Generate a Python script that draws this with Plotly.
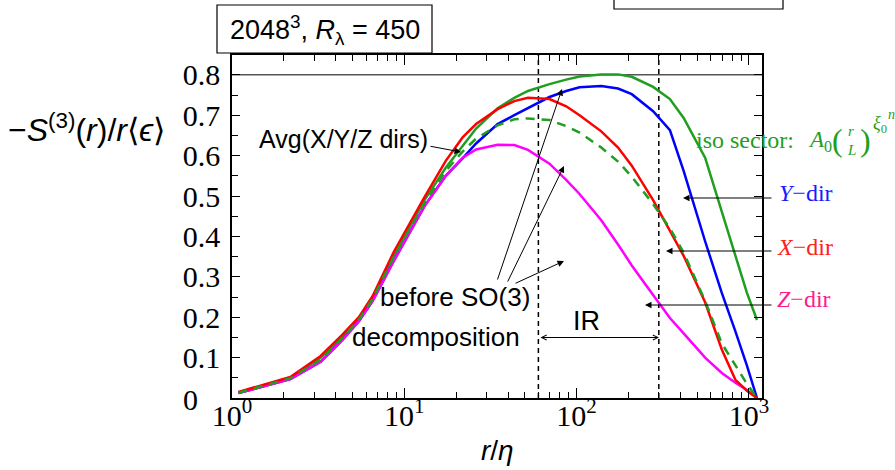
import plotly.graph_objects as go

# ---------------- data ----------------
r_eta = [1.09, 2.18, 3.27, 4.36, 5.45, 6.54, 8.7, 10.9, 13.1, 17.4, 21.8, 26.1, 34.8,
         43.5, 52.2, 69.6, 87, 104, 139, 174, 209, 278, 348, 418, 557, 696, 835, 974, 1114]

s3_x = [0.015, 0.052, 0.104, 0.156, 0.200, 0.252, 0.362, 0.437, 0.497, 0.587, 0.645, 0.678, 0.715,
        0.735, 0.743, 0.740, 0.722, 0.700, 0.660, 0.620, 0.575, 0.490, 0.415, 0.352, 0.237, 0.120,
        0.045, 0.018, 0.0]
s3_y = [0.012, 0.047, 0.090, 0.143, 0.190, 0.240, 0.340, 0.414, 0.475, 0.550, 0.593, 0.630, 0.678,
        0.700, 0.718, 0.745, 0.760, 0.769, 0.772, 0.766, 0.752, 0.710, 0.663, 0.562, 0.388, 0.260,
        0.165, 0.080, 0.0]
s3_z = [0.012, 0.047, 0.090, 0.143, 0.190, 0.240, 0.340, 0.414, 0.475, 0.550, 0.595, 0.615, 0.627,
        0.626, 0.614, 0.580, 0.540, 0.505, 0.440, 0.380, 0.328, 0.255, 0.198, 0.160, 0.100, 0.062,
        0.038, 0.020, 0.0]
s3_iso = [0.014, 0.050, 0.100, 0.150, 0.197, 0.247, 0.352, 0.430, 0.490, 0.570, 0.624, 0.667, 0.717,
          0.743, 0.760, 0.777, 0.788, 0.796, 0.801, 0.801, 0.795, 0.770, 0.740, 0.693, 0.595, 0.460,
          0.350, 0.260, 0.193]
s3_avg = [0.013, 0.049, 0.095, 0.148, 0.194, 0.245, 0.350, 0.425, 0.483, 0.562, 0.610, 0.642, 0.675,
          0.690, 0.692, 0.688, 0.673, 0.657, 0.620, 0.585, 0.548, 0.480, 0.420, 0.360, 0.240, 0.135,
          0.080, 0.035, 0.0]

ir_bounds = [60, 300]
ref_level = 0.8
y_ticks = [0, 0.1, 0.2, 0.3, 0.4, 0.5, 0.6, 0.7, 0.8]
y_ticktext = ["", "0.1", "0.2", "0.3", "0.4", "0.5", "0.6", "0.7", "0.8"]
y_zero_label = "0"
y_minor = [0.05, 0.15, 0.25, 0.35, 0.45, 0.55, 0.65, 0.75]
x_ticks = [1, 10, 100, 1000]
x_ticktext = ["10<sup>0</sup>", "10<sup>1</sup>", "10<sup>2</sup>", "10<sup>3</sup>"]
x_minor = [m * d for d in (1, 10, 100) for m in range(2, 10)]

# ---------------- geometry helpers (pixels -> paper) ----------------
W, H = 895, 470
L, R, T, B = 232, 762, 55, 398
def pxx(p):
    return (p - L) / (R - L)
def pxy(p):
    return (B - p) / (B - T)

SANS = "Liberation Sans"
SERIF = "Liberation Serif"
GREEN = "#1f9e1f"

fig = go.Figure()

# reference line at 0.8 and IR bounds
fig.add_trace(go.Scatter(x=[0.9, 1300], y=[ref_level, ref_level], mode="lines",
                         line=dict(color="#555555", width=1.5), hoverinfo="skip", showlegend=False))
for b in ir_bounds:
    fig.add_trace(go.Scatter(x=[b, b], y=[0, 0.86], mode="lines",
                             line=dict(color="black", width=1.5, dash="5px,4px"),
                             hoverinfo="skip", showlegend=False))

fig.add_trace(go.Scatter(x=r_eta, y=s3_iso, mode="lines", line=dict(color=GREEN, width=2.5), showlegend=False))
fig.add_trace(go.Scatter(x=r_eta, y=s3_y, mode="lines", line=dict(color="#0000ff", width=2.5), showlegend=False))
fig.add_trace(go.Scatter(x=r_eta, y=s3_z, mode="lines", line=dict(color="#ff00ff", width=2.5), showlegend=False))
fig.add_trace(go.Scatter(x=r_eta, y=s3_x, mode="lines", line=dict(color="#ff0000", width=2.5), showlegend=False))
fig.add_trace(go.Scatter(x=r_eta, y=s3_avg, mode="lines",
                         line=dict(color=GREEN, width=2.5, dash="9px,7px"), showlegend=False))

ann = []
def text(t, xp, yp, size, color="black", family=SANS, xanchor="center", yanchor="middle"):
    ann.append(dict(text=t, x=pxx(xp), y=pxy(yp), xref="paper", yref="paper", showarrow=False,
                    font=dict(family=family, size=size, color=color),
                    xanchor=xanchor, yanchor=yanchor))

def arrow(tail, tip, head=2, size=1.3, side="end"):
    ann.append(dict(text="", x=pxx(tip[0]), y=pxy(tip[1]), xref="paper", yref="paper",
                    showarrow=True, ax=tail[0] - tip[0], ay=tail[1] - tip[1],
                    arrowhead=head, arrowsize=size, arrowwidth=1, arrowcolor="black",
                    arrowside=side, standoff=0, startstandoff=0))

# y-axis zero label sits left-aligned under the other tick labels
text(y_zero_label, 181, 399, 30, family=SERIF, xanchor="left")

# title box text
text("2048<sup>3</sup>, <i>R</i><sub>λ</sub> = 450", 325, 30, 27)
# axis titles
text("−<i>S</i><sup>(3)</sup>(<i>r</i>)/<i>r</i>⟨<i>ϵ</i>⟩", 6, 128, 32, xanchor="left")
text("<i>r</i>/<i>η</i>", 497, 450, 28)

# inside labels
text("Avg(X/Y/Z dirs)", 257, 139, 25, xanchor="left")
arrow((429, 146), (461, 152))
text("before SO(3)", 455, 297, 26)
text("decomposition", 436, 337, 26)
arrow((497, 281), (562, 89))
arrow((507, 283), (564, 166))
arrow((514, 284), (564, 261))
text("IR", 586, 321, 27)
arrow((539, 337.5), (659, 337.5), head=5, size=1.0, side="end+start")

# right-hand labels
text("<i>Y</i>−dir", 777, 193, 24, color="#1a1aff", family=SERIF, xanchor="left")
arrow((773, 198), (683, 198))
text("<i>X</i>−dir", 775, 247, 24, color="#ff2020", family=SERIF, xanchor="left")
arrow((773, 251), (666, 251))
text("<i>Z</i>−dir", 775, 299, 24, color="#ff1a8c", family=SERIF, xanchor="left")
arrow((773, 305), (645, 305))

text("iso sector:", 694, 140, 24, color=GREEN, family=SERIF, xanchor="left")
text("<i>A</i><sub>0</sub>", 806, 141, 23, color=GREEN, family=SERIF, xanchor="left")
text("(", 830, 140, 32, color=GREEN, family=SERIF, xanchor="left")
text("<i>r</i>", 851, 131, 15, color=GREEN, family=SERIF)
text("<i>L</i>", 851, 150, 15, color=GREEN, family=SERIF)
text(")", 858, 140, 32, color=GREEN, family=SERIF, xanchor="left")
text("<i>ξ</i><sub>0</sub>", 871, 124, 18, color=GREEN, family=SERIF, xanchor="left")
text("<i>n</i>", 886, 114, 14, color=GREEN, family=SERIF, xanchor="left")

shapes = [
    dict(type="rect", xref="paper", yref="paper", x0=pxx(217), x1=pxx(432), y0=pxy(53), y1=pxy(5),
         line=dict(color="black", width=1.2), fillcolor="rgba(0,0,0,0)", layer="above"),
    dict(type="rect", xref="paper", yref="paper", x0=pxx(614), x1=pxx(783), y0=pxy(9), y1=pxy(-20),
         line=dict(color="black", width=1.2), fillcolor="rgba(0,0,0,0)", layer="above"),
]

fig.update_layout(
    width=W, height=H,
    margin=dict(l=L, r=W - R, t=T, b=H - B, pad=0, autoexpand=False),
    paper_bgcolor="white", plot_bgcolor="white",
    showlegend=False,
    annotations=ann, shapes=shapes,
    xaxis=dict(type="log", range=[0, 3.076], showgrid=False, zeroline=False, automargin=False,
               showline=True, linecolor="black", linewidth=1.5, mirror="ticks",
               ticks="inside", ticklen=10, tickwidth=1.2, tickcolor="black",
               tickvals=x_ticks, ticktext=x_ticktext,
               tickfont=dict(family=SERIF, size=30, color="black"),
               ticklabelstandoff=-10,
               minor=dict(ticks="inside", ticklen=6, tickwidth=1, tickcolor="black",
                          tickmode="array", tickvals=x_minor)),
    yaxis=dict(range=[0, 0.849], showgrid=False, zeroline=False, automargin=False,
               showline=True, linecolor="black", linewidth=1.5, mirror="ticks",
               ticks="inside", ticklen=8, tickwidth=1.2, tickcolor="black",
               tickvals=y_ticks, ticktext=y_ticktext,
               tickfont=dict(family=SERIF, size=30, color="black"),
               ticklabelstandoff=4,
               minor=dict(ticks="inside", ticklen=6, tickwidth=1, tickcolor="black",
                          tickmode="array", tickvals=y_minor)),
)

fig.write_html("out.html", config={"displayModeBar": False},
               post_script="document.body.style.margin='0px';")
